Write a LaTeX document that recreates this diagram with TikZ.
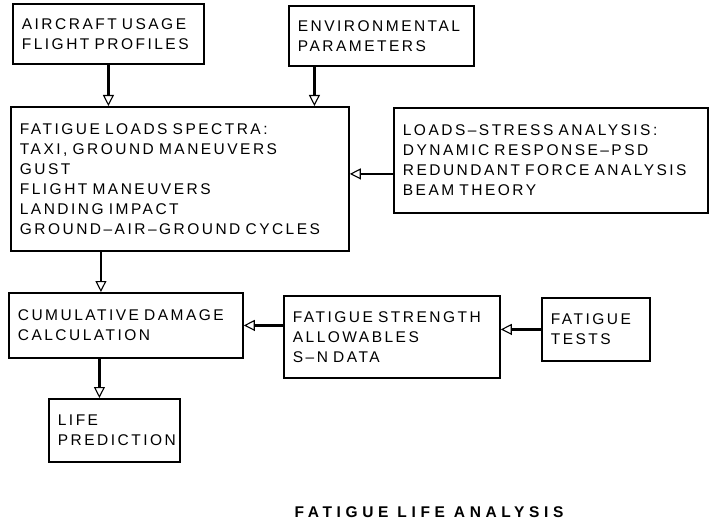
\documentclass[tikz,border=0pt]{standalone}
\usepackage{fontspec}
\usetikzlibrary{arrows.meta}
\newfontfamily\boitefont[LetterSpace=16,WordSpace=1.6]{Liberation Sans}
\newfontfamily\titrefont[LetterSpace=30]{Liberation Sans}
\begin{document}
\begin{tikzpicture}[x=1pt,y=-1pt,
boite/.style={draw,line width=1.8pt,anchor=north west,inner xsep=9pt,align=left,
font=\boitefont\fontsize{15.5}{20}\selectfont},
fleche/.style={line width=2.4pt,-{Triangle[open,length=11pt,width=11pt,line width=1.1pt]}}]

\useasboundingbox
(0,0)
rectangle
(711,529);

% Boîtes
\node[boite,text width=173pt,minimum height=60pt] (usage)
at (12,3)
{AIRCRAFT USAGE\\FLIGHT PROFILES};

\node[boite,text width=167pt,minimum height=60pt] (envir)
at (288,5)
{ENVIRONMENTAL\\PARAMETERS};

\node[boite,text width=320pt,minimum height=144pt] (spectres)
at (10,106)
{FATIGUE LOADS SPECTRA:\\TAXI, GROUND MANEUVERS\\GUST\\FLIGHT MANEUVERS\\LANDING IMPACT\\GROUND–AIR–GROUND CYCLES};

\node[boite,text width=296pt,minimum height=105pt] (analyse)
at (393,107)
{LOADS–STRESS ANALYSIS:\\DYNAMIC RESPONSE–PSD\\REDUNDANT FORCE ANALYSIS\\BEAM THEORY};

\node[boite,text width=216pt,minimum height=65pt] (dommage)
at (8,292)
{CUMULATIVE DAMAGE\\CALCULATION};

\node[boite,text width=198pt,minimum height=82pt] (resistance)
at (283,295)
{FATIGUE STRENGTH\\ALLOWABLES\\S–N DATA};

\node[boite,text width=90pt,minimum height=63pt] (essais)
at (541,297)
{FATIGUE\\TESTS};

\node[boite,text width=113pt,minimum height=63pt] (vie)
at (48,398)
{LIFE\\PREDICTION};

% Titre
\node[font=\titrefont\bfseries\fontsize{15.5}{18}\selectfont] (titre)
at (429,512)
{FATIGUE LIFE ANALYSIS};

% Flèches
\coordinate (e1) at ([xshift=-67pt]envir.south);
\coordinate (l1) at ([yshift=-13.5pt]analyse.west);
\coordinate (s1) at ([xshift=-25pt]dommage.north);
\coordinate (d1) at ([xshift=-15pt]vie.north);

\draw[fleche]
(usage.south)
--
(usage.south |- spectres.north);

\draw[fleche]
(e1)
--
(e1 |- spectres.north);

\draw[fleche]
(l1)
--
(l1 -| spectres.east);

\draw[fleche]
(s1 |- spectres.south)
--
(s1);

\draw[fleche]
(essais.west)
--
(essais.west -| resistance.east);

\draw[fleche]
(dommage.east -| resistance.west)
--
(dommage.east);

\draw[fleche]
(d1 |- dommage.south)
--
(d1);

\end{tikzpicture}
\end{document}
